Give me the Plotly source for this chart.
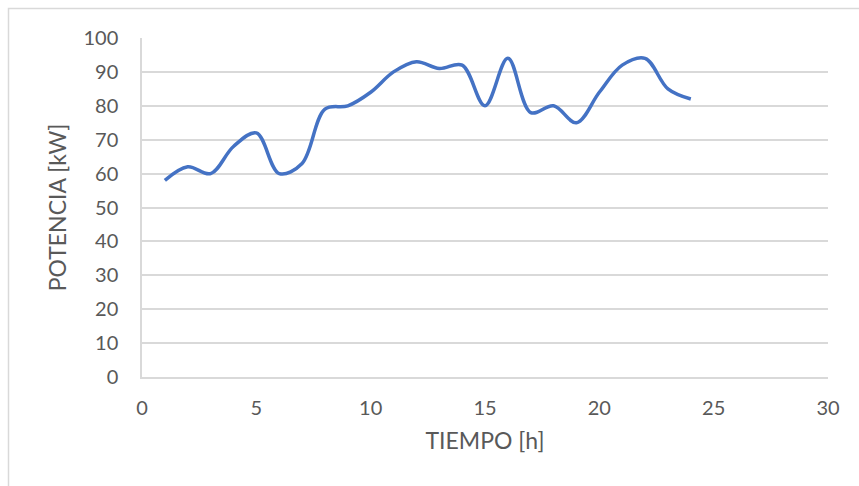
import plotly.graph_objects as go

# Hourly power demand
horas = list(range(1, 25))
potencia = [58, 62, 60, 68, 72, 60, 63, 79, 80, 84, 90, 93,
            91, 92, 80, 94, 78, 80, 75, 84, 92, 94, 85, 82]

x_ticks = [0, 5, 10, 15, 20, 25, 30]
y_ticks = [0, 10, 20, 30, 40, 50, 60, 70, 80, 90, 100]

GRID = "#D9D9D9"
TEXT = "#595959"
FONT = "Lato"

fig = go.Figure()
fig.add_trace(go.Scatter(
    x=horas, y=potencia, mode="lines",
    line=dict(color="#4472C4", width=3.5, shape="spline", smoothing=1),
    hoverinfo="x+y",
))

W, H = 859, 486
L, R, T, B = 142, 31, 38, 109
pw, ph = W - L - R, H - T - B

fig.update_layout(
    width=W, height=H,
    margin=dict(l=L, r=R, t=T, b=B),
    paper_bgcolor="white", plot_bgcolor="white",
    showlegend=False,
    font=dict(family=FONT, color=TEXT, size=20),
    xaxis=dict(
        range=[0, 30], tickvals=x_ticks, ticktext=[str(v) for v in x_ticks],
        showgrid=False, zeroline=False,
        showline=True, linecolor=GRID, linewidth=1.5,
        ticks="", ticklabelstandoff=12,
        tickfont=dict(family=FONT, size=20, color=TEXT),
        title=dict(text="TIEMPO [h]", font=dict(family=FONT, size=23, color=TEXT), standoff=15),
    ),
    yaxis=dict(
        range=[0, 100], tickvals=y_ticks, ticktext=[str(v) for v in y_ticks],
        showgrid=True, gridcolor=GRID, gridwidth=1.5,
        zeroline=False,
        showline=True, linecolor=GRID, linewidth=1.5,
        ticks="", ticklabelstandoff=18,
        tickfont=dict(family=FONT, size=20, color=TEXT),
        title=dict(text="POTENCIA [kW]", font=dict(family=FONT, size=23, color=TEXT), standoff=10),
    ),
)

# Chart-area border
fig.add_shape(
    type="rect", xref="paper", yref="paper",
    x0=(8.5 - L) / pw, x1=(W + 20 - L) / pw,
    y0=-(B + 20) / ph, y1=(H - B - 8.5) / ph,
    line=dict(color=GRID, width=1.5), fillcolor="rgba(0,0,0,0)",
    layer="below",
)

fig.write_html("out.html")
